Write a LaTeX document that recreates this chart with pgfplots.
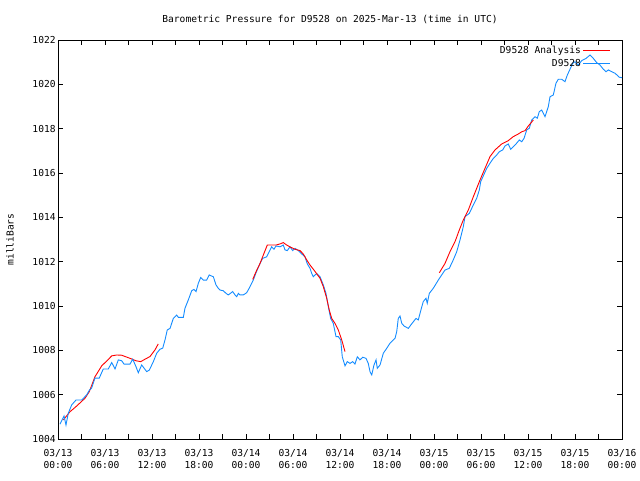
\documentclass[border=0pt]{standalone}
\usepackage{pgfplots}
\pgfplotsset{compat=1.18}
\usepackage{fontspec}
\setmainfont{DejaVu Sans Mono}
\definecolor{obsblue}{RGB}{20,140,255}
\definecolor{anared}{RGB}{255,0,0}
\begin{document}
\fontsize{9.6pt}{11pt}\selectfont
\begin{tikzpicture}
\begin{axis}[name=ax,
  scale only axis, width=564pt, height=399pt,
  xmin=0, xmax=72, ymin=1004, ymax=1022,
  axis line style={line width=0.8pt},
  xtick={0,6,...,72}, minor xtick={3,9,...,69},
  xticklabels={{03/13\\00:00},{03/13\\06:00},{03/13\\12:00},{03/13\\18:00},{03/14\\00:00},{03/14\\06:00},{03/14\\12:00},{03/14\\18:00},{03/15\\00:00},{03/15\\06:00},{03/15\\12:00},{03/15\\18:00},{03/16\\00:00}},
  x tick label style={align=center, font=\fontsize{9.6pt}{12pt}\selectfont, yshift=-7pt},
  ytick={1004,1006,...,1022},
  yticklabels={1004,1006,1008,1010,1012,1014,1016,1018,1020,1022},
  y tick label style={font=\fontsize{9.6pt}{11pt}\selectfont, xshift=1pt},
  tick style={black, line width=0.8pt},
  major tick length=5pt, minor tick length=5pt,
  tick align=inside,
  xtick pos=both, ytick pos=both,
  legend style={at={(1,1)}, anchor=north east, draw=none, fill=none,
    font=\fontsize{9.6pt}{11pt}\selectfont, row sep=0pt, xshift=-8pt, yshift=-2pt},
  legend cell align=right, legend plot pos=right,
  legend image code/.code={\draw[#1] (0cm,0cm) -- (0.95cm,0cm);},
]
\addplot[anared, line width=0.9pt] coordinates {
(0.68,1004.86)(1.53,1005.23)(2.39,1005.49)(3.45,1005.84)(4.00,1006.14)(4.72,1006.81)(5.58,1007.30)(6.13,1007.49)(6.86,1007.75)(7.49,1007.79)(8.13,1007.78)(9.19,1007.64)(9.96,1007.53)(10.56,1007.49)(11.11,1007.60)(11.74,1007.72)(12.38,1008.02)(12.80,1008.29)
};
\addlegendentry{D9528 Analysis}
\addplot[obsblue, line width=0.9pt] coordinates {
(0.26,1004.67)(0.77,1005.04)(1.02,1004.63)(1.31,1005.16)(1.75,1005.54)(2.30,1005.76)(3.03,1005.76)(3.66,1005.99)(4.00,1006.20)(4.30,1006.30)(4.72,1006.75)(5.27,1006.75)(5.78,1007.16)(6.42,1007.16)(6.86,1007.45)(7.28,1007.16)(7.70,1007.57)(8.13,1007.53)(8.43,1007.38)(9.19,1007.38)(9.54,1007.60)(9.96,1007.26)(10.25,1006.99)(10.68,1007.34)(11.32,1007.04)(11.66,1007.11)(12.17,1007.49)(12.60,1007.87)(13.02,1008.05)(13.37,1008.10)(13.66,1008.47)(13.95,1008.92)(14.30,1008.99)(14.72,1009.44)(15.15,1009.59)(15.36,1009.49)(16.00,1009.49)(16.21,1009.90)(16.63,1010.27)(17.07,1010.69)(17.36,1010.75)(17.62,1010.65)(17.91,1011.02)(18.22,1011.29)(18.55,1011.17)(18.98,1011.17)(19.31,1011.40)(19.62,1011.35)(19.83,1011.32)(20.17,1010.95)(20.46,1010.80)(20.68,1010.72)(21.10,1010.69)(21.45,1010.57)(21.74,1010.50)(22.30,1010.65)(22.60,1010.50)(22.81,1010.42)(23.02,1010.57)(23.23,1010.50)(23.65,1010.50)(24.09,1010.60)(24.51,1010.87)(24.93,1011.17)(25.28,1011.50)(25.70,1011.85)(26.13,1012.15)(26.64,1012.22)(26.97,1012.45)(27.28,1012.67)(27.57,1012.56)(27.83,1012.71)(28.34,1012.67)(28.76,1012.75)(28.98,1012.53)(29.27,1012.50)(29.62,1012.67)(29.96,1012.50)(30.26,1012.60)(30.68,1012.50)(31.11,1012.35)(31.53,1012.22)(31.83,1011.90)(32.17,1011.70)(32.39,1011.47)(32.59,1011.32)(33.03,1011.47)(33.45,1011.32)(33.87,1010.95)(34.21,1010.57)(34.51,1009.97)(34.81,1009.44)(35.14,1009.22)(35.49,1008.62)(35.78,1008.62)(36.09,1008.47)(36.29,1007.71)(36.64,1007.30)(36.93,1007.49)(37.28,1007.41)(37.62,1007.49)(37.91,1007.38)(38.21,1007.71)(38.55,1007.57)(38.90,1007.69)(39.32,1007.64)(39.61,1007.41)(39.83,1007.04)(40.05,1006.89)(40.34,1007.34)(40.60,1007.57)(40.76,1007.19)(41.11,1007.34)(41.53,1007.87)(41.96,1008.09)(42.38,1008.32)(43.02,1008.54)(43.24,1008.84)(43.44,1009.44)(43.66,1009.55)(43.88,1009.22)(44.17,1009.10)(44.72,1008.99)(45.03,1009.14)(45.36,1009.29)(45.70,1009.44)(45.99,1009.37)(46.43,1009.95)(46.63,1010.20)(46.98,1010.35)(47.14,1010.12)(47.40,1010.57)(47.91,1010.80)(48.55,1011.17)(48.98,1011.40)(49.40,1011.62)(49.95,1011.70)(50.46,1012.08)(50.90,1012.45)(51.32,1012.98)(51.74,1013.58)(51.96,1014.03)(52.51,1014.18)(53.02,1014.56)(53.45,1014.86)(53.78,1015.23)(53.96,1015.61)(54.73,1016.21)(55.15,1016.44)(55.57,1016.66)(56.00,1016.81)(56.34,1016.96)(56.77,1017.04)(57.06,1017.22)(57.48,1017.31)(57.79,1017.07)(58.12,1017.19)(58.47,1017.31)(58.89,1017.49)(59.20,1017.41)(59.49,1017.56)(59.83,1017.94)(60.17,1018.02)(60.47,1018.39)(60.89,1018.54)(61.19,1018.47)(61.44,1018.77)(61.75,1018.84)(62.17,1018.54)(62.59,1018.99)(62.81,1019.44)(63.23,1019.52)(63.57,1020.05)(63.87,1020.23)(64.30,1020.23)(64.72,1020.12)(65.02,1020.42)(65.36,1020.68)(65.71,1020.95)(66.00,1021.02)(66.42,1020.87)(66.86,1021.07)(67.40,1021.17)(67.91,1021.32)(68.34,1021.17)(68.77,1020.98)(69.19,1020.87)(69.62,1020.68)(69.96,1020.57)(70.26,1020.65)(70.68,1020.57)(71.11,1020.50)(71.66,1020.32)(72.00,1020.30)
};
\addlegendentry{D9528}
\addplot[anared, line width=0.9pt, forget plot] coordinates {
(24.86,1011.20)(25.37,1011.62)(25.79,1011.92)(26.30,1012.38)(26.72,1012.75)(27.15,1012.75)(27.83,1012.75)(28.34,1012.80)(28.76,1012.86)(29.20,1012.75)(29.71,1012.65)(30.26,1012.56)(30.89,1012.50)(31.31,1012.35)(31.75,1012.08)(32.17,1011.85)(32.68,1011.62)(33.45,1011.25)(33.87,1010.87)(34.30,1010.35)(34.63,1009.82)(34.94,1009.44)(35.36,1009.22)(35.78,1008.92)(36.22,1008.47)(36.64,1007.94)
};
\addplot[anared, line width=0.9pt, forget plot] coordinates {
(48.68,1011.50)(49.40,1011.92)(50.04,1012.45)(50.68,1012.90)(51.23,1013.43)(51.74,1013.88)(52.38,1014.33)(53.02,1014.93)(53.53,1015.38)(53.87,1015.68)(54.51,1016.21)(55.15,1016.74)(55.79,1017.04)(56.64,1017.31)(57.48,1017.46)(58.12,1017.64)(58.76,1017.76)(59.20,1017.86)(59.62,1017.91)(60.04,1018.12)(60.68,1018.39)
};
\end{axis}
\node[anchor=center] at ([xshift=272pt,yshift=21pt]ax.north west) {Barometric Pressure for D9528 on 2025-Mar-13 (time in UTC)};
\node[rotate=90, anchor=center] at ([xshift=-48pt]ax.west) {milliBars};
\pgfresetboundingbox
\useasboundingbox ([shift={(-58pt,-41pt)}]ax.south west) rectangle ([shift={(18pt,40pt)}]ax.north east);
\end{tikzpicture}
\end{document}
